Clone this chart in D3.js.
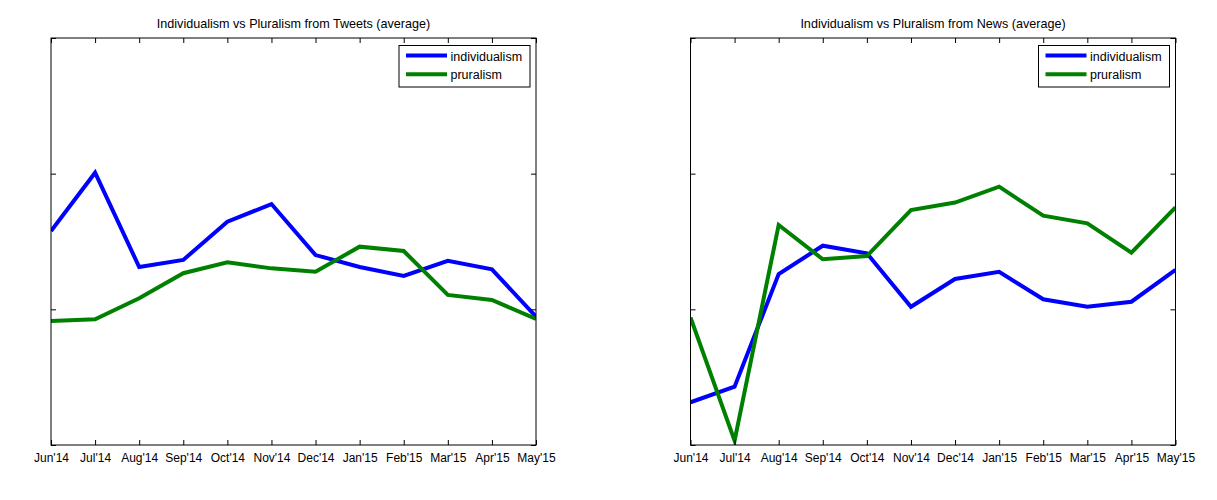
<!DOCTYPE html>
<html>
<head>
<meta charset="utf-8">
<script src="https://cdn.jsdelivr.net/npm/d3@7"></script>
<style>
    body { margin: 0; background: #fff; }
    svg text { font-family: "Liberation Sans", Arial, Helvetica, sans-serif; }
</style>
</head>
<body>
<div id="chart"></div>
<script>
const months = ["Jun'14", "Jul'14", "Aug'14", "Sep'14", "Oct'14", "Nov'14", "Dec'14",
    "Jan'15", "Feb'15", "Mar'15", "Apr'15", "May'15"]

// tweets panel
const tweetsIndividualism = [1.577, 2.007, 1.312, 1.364, 1.646, 1.776, 1.400, 1.312, 1.246, 1.358, 1.295, 0.946]
const tweetsPluralism = [0.914, 0.927, 1.081, 1.266, 1.347, 1.302, 1.277, 1.462, 1.430, 1.106, 1.069, 0.929]

// news panel
const newsIndividualism = [0.315, 0.430, 1.260, 1.469, 1.413, 1.019, 1.224, 1.277, 1.074, 1.019, 1.056, 1.290]
const newsPluralism = [0.941, 0.032, 1.622, 1.369, 1.393, 1.732, 1.787, 1.904, 1.690, 1.634, 1.417, 1.752]

const yTicks = [0, 1, 2, 3]
const seriesNames = ['individualism', 'pruralism']
const seriesColors = ['#0000ff', '#008000']

const panels = [
    {title: 'Individualism vs Pluralism from Tweets (average)', left: 51, series: [tweetsIndividualism, tweetsPluralism]},
    {title: 'Individualism vs Pluralism from News (average)', left: 690.5, series: [newsIndividualism, newsPluralism]}
]

const svg = d3.select('#chart').append('svg')
    .attr('width', 1217)
    .attr('height', 500)

const plotW = 485, plotTop = 38, plotBottom = 445

panels.forEach((p, pi) => {
    const x_scale = d3.scalePoint()
        .domain(months)
        .range([p.left, p.left + plotW])

    const y_scale = d3.scaleLinear()
        .domain([0, 3])
        .range([plotBottom, plotTop])

    const g = svg.append('g')

    g.append('clipPath')
        .attr('id', 'clip' + pi)
        .append('rect')
        .attr('x', p.left)
        .attr('y', plotTop)
        .attr('width', plotW)
        .attr('height', plotBottom - plotTop)

    // lines
    const line = d3.line()
        .x((d, i) => x_scale(months[i]))
        .y(d => y_scale(d))

    g.selectAll('path.series')
        .data(p.series)
        .join('path')
        .attr('class', 'series')
        .attr('clip-path', `url(#clip${pi})`)
        .attr('d', d => line(d))
        .style('fill', 'none')
        .style('stroke', (d, i) => seriesColors[i])
        .style('stroke-width', 4)
        .style('stroke-linejoin', 'miter')

    // axes, ticks pointing inward on all four sides
    const tickLen = 5
    g.append('g')
        .attr('transform', `translate(0, ${plotBottom})`)
        .call(d3.axisBottom(x_scale).tickSizeInner(-tickLen).tickSizeOuter(0).tickPadding(8))
    g.append('g')
        .attr('transform', `translate(0, ${plotTop})`)
        .call(d3.axisTop(x_scale).tickSizeInner(-tickLen).tickSizeOuter(0).tickFormat(''))
    g.append('g')
        .attr('transform', `translate(${p.left}, 0)`)
        .call(d3.axisLeft(y_scale).tickValues(yTicks).tickSizeInner(-tickLen).tickSizeOuter(0).tickFormat(''))
    g.append('g')
        .attr('transform', `translate(${p.left + plotW}, 0)`)
        .call(d3.axisRight(y_scale).tickValues(yTicks).tickSizeInner(-tickLen).tickSizeOuter(0).tickFormat(''))

    g.selectAll('.domain').style('display', 'none')
    g.selectAll('.tick line').style('stroke', '#000')
    g.selectAll('.tick text')
        .style('font-size', '12px')
        .style('fill', '#000')

    // frame
    g.append('rect')
        .attr('x', p.left)
        .attr('y', plotTop)
        .attr('width', plotW)
        .attr('height', plotBottom - plotTop)
        .style('fill', 'none')
        .style('stroke', '#000')
        .style('stroke-width', 1)

    // title
    g.append('text')
        .attr('x', p.left + plotW / 2)
        .attr('y', 28)
        .style('text-anchor', 'middle')
        .style('font-size', '12.6px')
        .text(p.title)

    // legend
    const lx = p.left + plotW - 137, ly = 45.5
    const legend = g.append('g').attr('transform', `translate(${lx}, ${ly})`)
    legend.append('rect')
        .attr('width', 131)
        .attr('height', 41.5)
        .style('fill', '#fff')
        .style('stroke', '#000')
    seriesNames.forEach((name, i) => {
        legend.append('line')
            .attr('x1', 7)
            .attr('x2', 48)
            .attr('y1', 10 + i * 18.7)
            .attr('y2', 10 + i * 18.7)
            .style('stroke', seriesColors[i])
            .style('stroke-width', 4)
        legend.append('text')
            .attr('x', 51.5)
            .attr('y', 15 + i * 18.7)
            .style('font-size', '12.5px')
            .text(name)
    })
})
</script>
</body>
</html>
